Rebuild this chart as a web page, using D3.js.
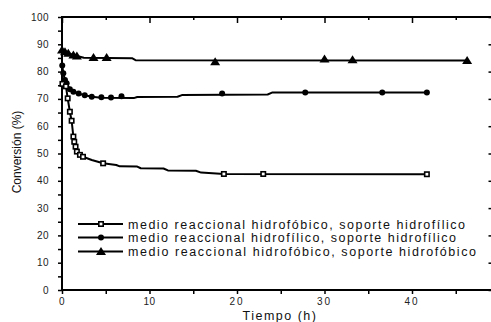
<!DOCTYPE html>
<html><head><meta charset="utf-8">
<script src="https://cdn.jsdelivr.net/npm/d3@7"></script>
<style>body{margin:0;background:#fff}svg{display:block}</style>
</head><body>
<svg id="c" width="491" height="322"></svg>
<script>
// ---- data ----
const legendLabels = [
  "medio reaccional hidrofóbico, soporte hidrofílico",
  "medio reaccional hidrofílico, soporte hidrofílico",
  "medio reaccional hidrofóbico, soporte hidrofóbico"
];
const xTicks = [0, 10, 20, 30, 40];
const yTicks = [0, 10, 20, 30, 40, 50, 60, 70, 80, 90, 100];
const xTitle = "Tiempo (h)";
const yTitle = "Conversión (%)";

// Series A: open squares
const lineA = [[0,75.5],[0.45,74.6],[0.65,70.2],[0.9,65.3],[1.1,62],[1.3,56.2],[1.4,54.3],[1.55,52.5],[1.7,50.7],[2.05,49.5],[2.4,48.8],[3.4,47.6],[4.7,46.4],[6.2,45.8],[6.6,45.3],[8.6,45.2],[9.0,44.6],[11.6,44.5],[12.1,43.8],[15.3,43.7],[15.9,43.0],[18.5,42.5],[41.7,42.4]];
const markA = [[0.05,75.5],[0.45,74.6],[0.65,70.2],[0.9,65.3],[1.1,62],[1.3,56.2],[1.4,54.3],[1.55,52.5],[1.7,50.7],[2.05,49.5],[2.4,48.8],[4.7,46.4],[18.5,42.5],[23,42.5],[41.7,42.4]];
// Series B: filled circles
const lineB = [[0.03,82.2],[0.15,79.4],[0.34,76.9],[0.53,75.7],[0.9,73.5],[1.3,72.6],[1.9,72],[2.6,71.3],[3.4,70.8],[4.5,70.4],[8.2,70.3],[8.6,70.7],[13.2,70.8],[13.7,71.4],[23.5,71.6],[24,72.3],[41.7,72.3]];
const markB = [[0.03,82.2],[0.15,79.4],[0.34,76.9],[0.53,75.7],[0.9,73.5],[1.3,72.6],[1.9,72],[2.6,71.3],[3.4,70.8],[4.5,70.6],[5.6,70.5],[6.8,71],[18.3,72.0],[27.8,72.3],[36.6,72.3],[41.7,72.3]];
// Series C: filled triangles
const lineC = [[0,87.9],[0.34,87.3],[0.72,86.7],[1.3,86.1],[1.7,85.7],[2.5,85.1],[8,84.9],[8.4,84.2],[46.3,84.1]];
const markC = [[0,87.9],[0.34,87.3],[0.72,86.7],[1.3,86.1],[1.7,85.7],[3.6,85.2],[5.1,85.2],[17.5,83.6],[30,84.6],[33.2,84.3],[46.3,84.1]];

// ---- drawing ----
const svg = d3.select("#c");
const x = d3.scaleLinear().domain([0, 49.2]).range([62, 492.5]);
const y = d3.scaleLinear().domain([0, 100]).range([290, 17]);
const font = "'Liberation Sans', Arial, sans-serif";

// frame
const frame = svg.append("g").attr("stroke", "#000").attr("stroke-width", 2);
frame.append("line").attr("x1", x(0)).attr("x2", x(0)).attr("y1", y(100)-1).attr("y2", y(0)+1);
frame.append("line").attr("x1", x(0)-1).attr("x2", x(49.2)).attr("y1", y(0)).attr("y2", y(0));
frame.append("line").attr("x1", x(0)-1).attr("x2", x(49.2)).attr("y1", y(100)).attr("y2", y(100));
frame.append("line").attr("x1", x(49.2)).attr("x2", x(49.2)).attr("y1", y(100)).attr("y2", y(0));

// axes via d3
const minorX = d3.range(0, 50, 5);
const minorY = d3.range(0, 101, 5);
const axL = svg.append("g").attr("transform", `translate(${x(0)},0)`)
  .call(d3.axisLeft(y).tickValues(minorY).tickSize(4).tickFormat(""));
const axB = svg.append("g").attr("transform", `translate(0,${y(0)})`)
  .call(d3.axisBottom(x).tickValues(minorX).tickSize(4).tickFormat(""));
const axT = svg.append("g").attr("transform", `translate(0,${y(100)})`)
  .call(d3.axisBottom(x).tickValues(minorX).tickSize(0).tickFormat(""));
axT.selectAll(".tick line").attr("y2", d => d % 10 === 0 ? 6 : 3);
const axR = svg.append("g").attr("transform", `translate(${x(49.2)},0)`)
  .call(d3.axisLeft(y).tickValues(yTicks).tickSize(4).tickFormat(""));
[axL, axB, axT, axR].forEach(a => {
  a.select(".domain").remove();
  a.selectAll(".tick line").attr("stroke", "#000").attr("stroke-width", 1.5);
});

// tick labels
svg.append("g").selectAll("text").data(yTicks).join("text")
  .attr("x", 49).attr("y", d => y(d) + 3.5).attr("text-anchor", "end")
  .attr("font-family", font).attr("font-size", 10).attr("fill", "#222")
  .attr("letter-spacing", "0.4px").text(d => d);
svg.append("g").selectAll("text").data(xTicks).join("text")
  .attr("x", d => x(d)).attr("y", 305).attr("text-anchor", "middle")
  .attr("font-family", font).attr("font-size", 10).attr("fill", "#222")
  .attr("letter-spacing", d => d >= 20 ? "2px" : "0.5px").text(d => d);

// titles
svg.append("text").attr("x", 280).attr("y", 320).attr("text-anchor", "middle")
  .attr("font-family", font).attr("font-size", 12.5).attr("letter-spacing", "1.5px")
  .attr("fill", "#111").text(xTitle);
svg.append("text").attr("transform", "translate(21,152) rotate(-90)").attr("text-anchor", "middle")
  .attr("font-family", font).attr("font-size", 12).attr("fill", "#111").text(yTitle);

// lines
const line = d3.line().x(d => x(d[0])).y(d => y(d[1]));
[lineA, lineB, lineC].forEach(L => {
  svg.append("path").datum(L).attr("d", line).attr("fill", "none")
    .attr("stroke", "#000").attr("stroke-width", 2).attr("stroke-linejoin", "round");
});

// markers
function square(g, cx, cy) {
  g.append("rect").attr("x", cx - 2.2).attr("y", cy - 2.2).attr("width", 4.4).attr("height", 4.4)
    .attr("fill", "#fff").attr("stroke", "#000").attr("stroke-width", 1.6);
}
function circle(g, cx, cy) {
  g.append("circle").attr("cx", cx).attr("cy", cy).attr("r", 3).attr("fill", "#000");
}
function tri(g, cx, cy) {
  g.append("path").attr("d", `M${cx},${cy - 4.5}L${cx + 5},${cy + 3.5}L${cx - 5},${cy + 3.5}Z`).attr("fill", "#000");
}
const mg = svg.append("g");
markC.forEach(d => tri(mg, x(d[0]), y(d[1])));
markB.forEach(d => circle(mg, x(d[0]), y(d[1])));
markA.forEach(d => square(mg, x(d[0]), y(d[1])));

// legend
const legY = [224, 237.5, 251.5];
const legW = [337, 328, 348];
const markers = [square, circle, tri];
const lg = svg.append("g");
legendLabels.forEach((lab, i) => {
  lg.append("line").attr("x1", 78).attr("x2", 123).attr("y1", legY[i]).attr("y2", legY[i])
    .attr("stroke", "#000").attr("stroke-width", 2);
  markers[i](lg, 101, legY[i]);
  lg.append("text").attr("x", 128).attr("y", legY[i] + 4.5)
    .attr("font-family", font).attr("font-size", 12.5).attr("fill", "#111")
    .attr("textLength", legW[i]).attr("lengthAdjust", "spacing").text(lab);
});
</script>
</body></html>
